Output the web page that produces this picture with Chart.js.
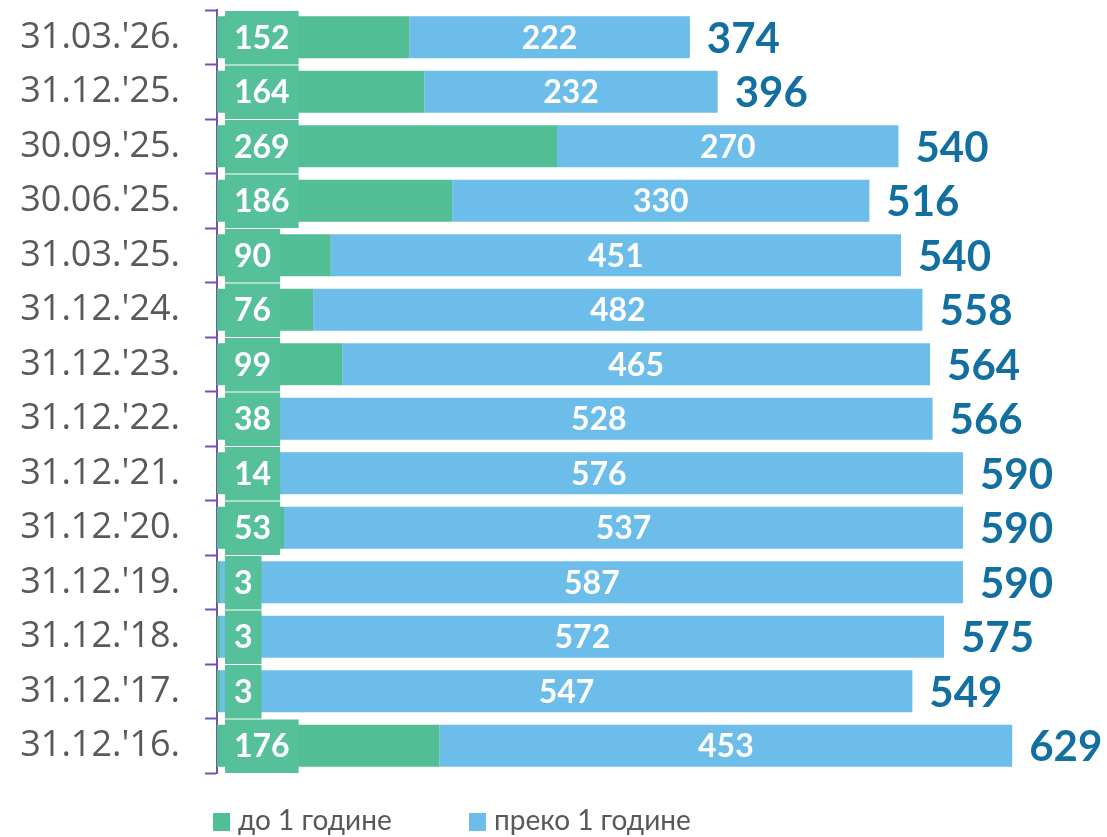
<!DOCTYPE html>
<html>
<head>
<meta charset="utf-8">
<script src="https://cdn.jsdelivr.net/npm/chart.js@4/dist/chart.umd.min.js"></script>
<style>
  html, body { margin: 0; padding: 0; background: #fff; }
  #wrap { width: 1107px; height: 837px; position: relative; }
</style>
</head>
<body>
<div id="wrap"><canvas id="chart"></canvas></div>
<script>
const datumi = ["31.03.'26.", "31.12.'25.", "30.09.'25.", "30.06.'25.", "31.03.'25.", "31.12.'24.", "31.12.'23.",
    "31.12.'22.", "31.12.'21.", "31.12.'20.", "31.12.'19.", "31.12.'18.", "31.12.'17.", "31.12.'16."]
const doGodine = [152, 164, 269, 186, 90, 76, 99, 38, 14, 53, 3, 3, 3, 176]
const prekoGodine = [222, 232, 270, 330, 451, 482, 465, 528, 576, 537, 587, 572, 547, 453]
const ukupno = [374, 396, 540, 516, 540, 558, 564, 566, 590, 590, 590, 575, 549, 629]
const nazivi = ['до 1 године', 'преко 1 године']

const ZELENA = '#52BE96'
const PLAVA = '#6CBDEA'
const LJUBICASTA = '#7352B0'
const FONT = "Lato, 'Open Sans', sans-serif"

const oznakePlugin = {
    id: 'oznake',
    afterDatasetsDraw(chart) {
        const ctx = chart.ctx
        const yScale = chart.scales.y
        const slot = yScale.getPixelForValue(1) - yScale.getPixelForValue(0)
        const zelene = chart.getDatasetMeta(0).data
        const plave = chart.getDatasetMeta(1).data
        ctx.save()
        ctx.textBaseline = 'middle'
        zelene.forEach((bar, i) => {
            const y = bar.y
            // zelena kutija sa vrednoscu na pocetku trake
            ctx.font = `bold 32px ${FONT}`
            const txt = String(doGodine[i])
            const w = ctx.measureText(txt).width + 18
            const x0 = chart.chartArea.left + 8
            ctx.fillStyle = '#56C09A'
            ctx.fillRect(x0, y - slot / 2 + 1, w, slot - 1)
            ctx.fillStyle = '#fff'
            ctx.textAlign = 'center'
            ctx.fillText(txt, x0 + w / 2, y + 1)

            const p = plave[i]
            ctx.fillText(String(prekoGodine[i]), (p.x + p.base) / 2, y + 1)

            ctx.font = `bold 42px ${FONT}`
            ctx.fillStyle = '#136FA0'
            ctx.textAlign = 'left'
            ctx.fillText(String(ukupno[i]), p.x + 17, y + 2)
        })
        ctx.restore()
    },
    afterDraw(chart) {
        const ctx = chart.ctx
        ctx.save()
        ctx.font = `28px ${FONT}`
        ctx.textBaseline = 'middle'
        ctx.textAlign = 'left'
        const stavke = [[213, ZELENA, nazivi[0]], [469, PLAVA, nazivi[1]]]
        stavke.forEach(([x, boja, tekst]) => {
            ctx.fillStyle = boja
            ctx.fillRect(x, 813, 17, 18)
            ctx.fillStyle = '#595959'
            ctx.fillText(tekst, x + 25, 821)
        })
        ctx.restore()
    }
}

new Chart(document.getElementById('chart'), {
    type: 'bar',
    data: {
        labels: datumi,
        datasets: [
            { label: nazivi[0], data: doGodine, backgroundColor: ZELENA, borderWidth: 0 },
            { label: nazivi[1], data: prekoGodine, backgroundColor: PLAVA, borderWidth: 0 }
        ]
    },
    options: {
        indexAxis: 'y',
        responsive: true,
        maintainAspectRatio: false,
        animation: false,
        datasets: { bar: { categoryPercentage: 1, barPercentage: 0.77 } },
        layout: { padding: { top: 10, bottom: 64, left: 0, right: 5 } },
        plugins: {
            legend: { display: false },
            tooltip: { enabled: false }
        },
        scales: {
            x: {
                stacked: true,
                display: false,
                min: 0,
                max: 700
            },
            y: {
                stacked: true,
                offset: true,
                afterFit: (scale) => {
                    scale.width = 217
                    scale.paddingTop = 0
                    scale.paddingBottom = 0
                },
                border: { display: true, color: LJUBICASTA, width: 2 },
                grid: {
                    display: true,
                    offset: true,
                    drawOnChartArea: false,
                    drawTicks: true,
                    tickLength: 12,
                    tickWidth: 2,
                    color: LJUBICASTA
                },
                ticks: {
                    color: '#595959',
                    padding: 25,
                    font: { family: "'Open Sans', sans-serif", size: 36 }
                }
            }
        }
    },
    plugins: [oznakePlugin]
})
</script>
</body>
</html>
